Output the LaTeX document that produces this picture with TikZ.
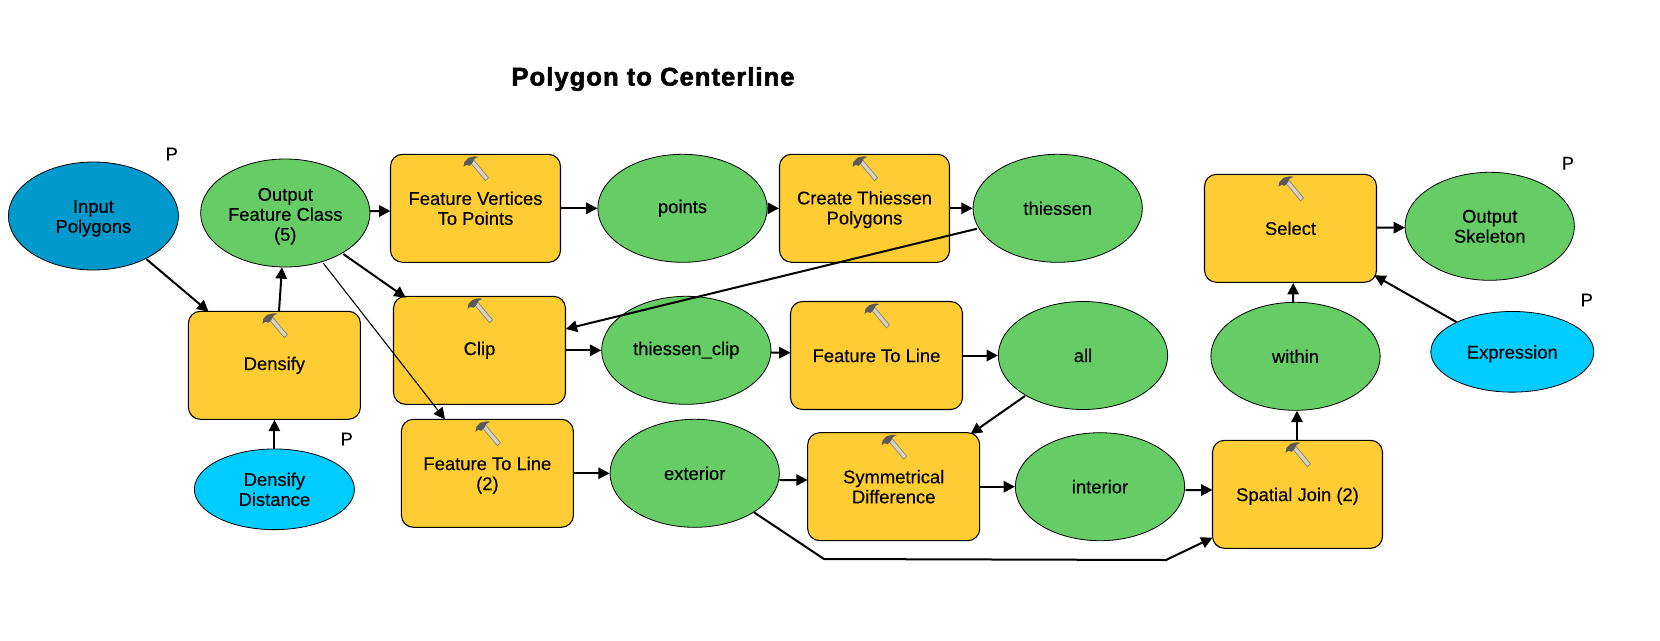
\documentclass[tikz,border=0pt]{standalone}
\usepackage{fontspec}
\setmainfont{Liberation Sans}[FakeBold=0.15]
\newfontfamily\ttlfont{Liberation Sans}[BoldFeatures={FakeBold=2,LetterSpace=4}]
\usetikzlibrary{arrows.meta,calc,shapes.geometric}
\definecolor{ty}{HTML}{FFCC33}
\definecolor{tg}{HTML}{66CC66}
\definecolor{tb}{HTML}{0099CC}
\definecolor{tc}{HTML}{00CCFF}
\definecolor{hdl}{HTML}{D9D3BE}
\tikzset{
  tool/.style={draw=black,line width=0.8pt,fill=ty,rounded corners=9pt,rectangle,minimum width=#1*0.75pt,minimum height=81pt,inner sep=0pt,font=\fontsize{13.8pt}{15pt}\selectfont,align=center},
  data/.style={draw=black,line width=0.6pt,fill=tg,ellipse,minimum width=127pt,minimum height=81pt,inner sep=0pt,font=\fontsize{13.8pt}{15pt}\selectfont,align=center},
  param/.style={draw=black,line width=0.6pt,fill=tc,ellipse,minimum width=#1*0.75pt,minimum height=60.5pt,inner sep=0pt,font=\fontsize{13.8pt}{15pt}\selectfont,align=center},
  conn/.style={-{Triangle[length=8.5pt,width=8.5pt]},line width=1.5pt,black},
  thinconn/.style={-{Triangle[length=8.5pt,width=8.5pt]},line width=0.8pt,black},
  pmark/.style={font=\fontsize{13.8pt}{15pt}\selectfont,text=black,inner sep=0pt},
  hammer/.pic={
    \filldraw[fill=hdl,draw=gray,line width=0.5pt] (-5,9) -- (-2,6) -- (13,24) -- (10,27) -- cycle;
    \fill[black!65] (-12,13) -- (-11,8) -- (-7,4) -- (-1,2.5) -- (3,3) -- (-1,5) -- (-3,9) -- (-6,12) -- (-9,11) -- cycle;
  }
}
\newcommand{\hamm}[1]{\path (#1.north) pic {hammer};}
\newcommand{\lk}[7][conn]{\draw[#1] ([shift={(#3,#4)}]#2.center) -- ([shift={(#6,#7)}]#5.center);}
\newcommand{\dn}[1]{\rule{0pt}{#1pt}}
\begin{document}
\begin{tikzpicture}[x=0.75pt,y=-0.75pt]
\useasboundingbox (0,0) rectangle (1660,640);
\fill[white] (0,0) rectangle (1660,640);
\node[font=\fontsize{19.2pt}{20pt}\ttlfont\bfseries,inner sep=0pt] (title) at (653,79) {Polygon to Centerline};

\node[param=160,fill=tb,minimum width=127.5pt,minimum height=81pt] (ip) at (93.4,216) {\dn{13}Input\\Polygons};
\node[data] (ofc) at (285.3,213) {\dn{14.5}Output\\Feature Class\\(5)};
\node[tool=170] (fvtp) at (475.5,208.3) {Feature Vertices\\To Points};
\node[data] (pts) at (682.5,208.3) {points};
\node[tool=170] (ctp) at (864.5,208.3) {\dn{12}Create Thiessen\\Polygons};
\node[data] (th) at (1057.7,208.3) {thiessen};
\node[tool=172] (clip) at (479.5,350.3) {Clip};
\node[data] (tcl) at (686.3,350.3) {thiessen\_clip};
\node[tool=172] (ftl) at (876.5,355.5) {Feature To Line};
\node[data] (all) at (1083,355.5) {all};
\node[tool=172] (dens) at (274.4,365.3) {Densify};
\node[tool=172] (ftl2) at (487.4,473.3) {\dn{13}Feature To Line\\(2)};
\node[data] (ext) at (694.7,473.3) {exterior};
\node[tool=172] (sd) at (893.7,486.7) {Symmetrical\\Difference};
\node[data] (int) at (1100,486.7) {interior};
\node[param=160] (dd) at (274.4,489.3) {Densify\\Distance};
\node[tool=172] (sel) at (1290.5,228.3) {Select};
\node[data] (os) at (1489.7,226.3) {Output\\Skeleton};
\node[data] (wi) at (1295.5,356.3) {within};
\node[param=163] (ex) at (1512.3,351.8) {\dn{13}Expression};
\node[tool=170] (sj) at (1297.5,494.3) {\dn{13}Spatial Join (2)};

\node[pmark] (p1) at (171.8,154) {P};
\node[pmark] (p2) at (346.7,439) {P};
\node[pmark] (p3) at (1567.9,163.3) {P};
\node[pmark] (p4) at (1586.8,300) {P};

\foreach \n in {fvtp,ctp,clip,ftl,dens,ftl2,sd,sel,sj} {\hamm{\n}}

\lk{ip}{53.2}{43.3}{dens}{-65.8}{-53.6}
\lk{dens}{4.6}{-54}{ofc}{-3.3}{54.3}
\draw[conn] (dd.north) -- (dens.south);
\lk{ofc}{84.7}{-2}{fvtp}{-85}{2.7}
\lk{ofc}{58}{41}{clip}{-73.8}{-52.6}
\lk[thinconn]{ofc}{38.1}{50.3}{ftl2}{-42.4}{-54}
\draw[conn] (fvtp.east) -- (pts.west);
\draw[conn] (clip.east) -- (tcl.west);
\lk{th}{-80.7}{20.4}{clip}{86.2}{-21.3}
\draw[conn] (pts.east) -- (ctp.west);
\draw[conn] (ctp.east) -- (th.west);
\lk{tcl}{84.6}{2.4}{ftl}{-86}{-2.8}
\draw[conn] (ftl.east) -- (all.west);
\lk{all}{-58}{40.5}{sd}{76.9}{-52.7}
\draw[conn] (ftl2.east) -- (ext.west);
\lk{ext}{84.6}{6.7}{sd}{-86.1}{-6.7}
\draw[conn] (sd.east) -- (int.west);
\lk{int}{85.7}{3.3}{sj}{-85}{-4.3}
\coordinate (b1) at (824,559);
\coordinate (b2) at (1166,560);
\draw[conn] ([shift={(59.3,39)}]ext.center) -- (b1) -- (b2) -- ([shift={(-85,43.4)}]sj.center);
\lk{sj}{-0.5}{-54}{wi}{1.5}{54.4}
\lk{wi}{-2.3}{-53.6}{sel}{2.7}{54.7}
\lk{sel}{86}{-0.6}{os}{-84.7}{1.4}
\lk{ex}{-55.9}{-29.8}{sel}{83.8}{47}
\end{tikzpicture}
\end{document}
